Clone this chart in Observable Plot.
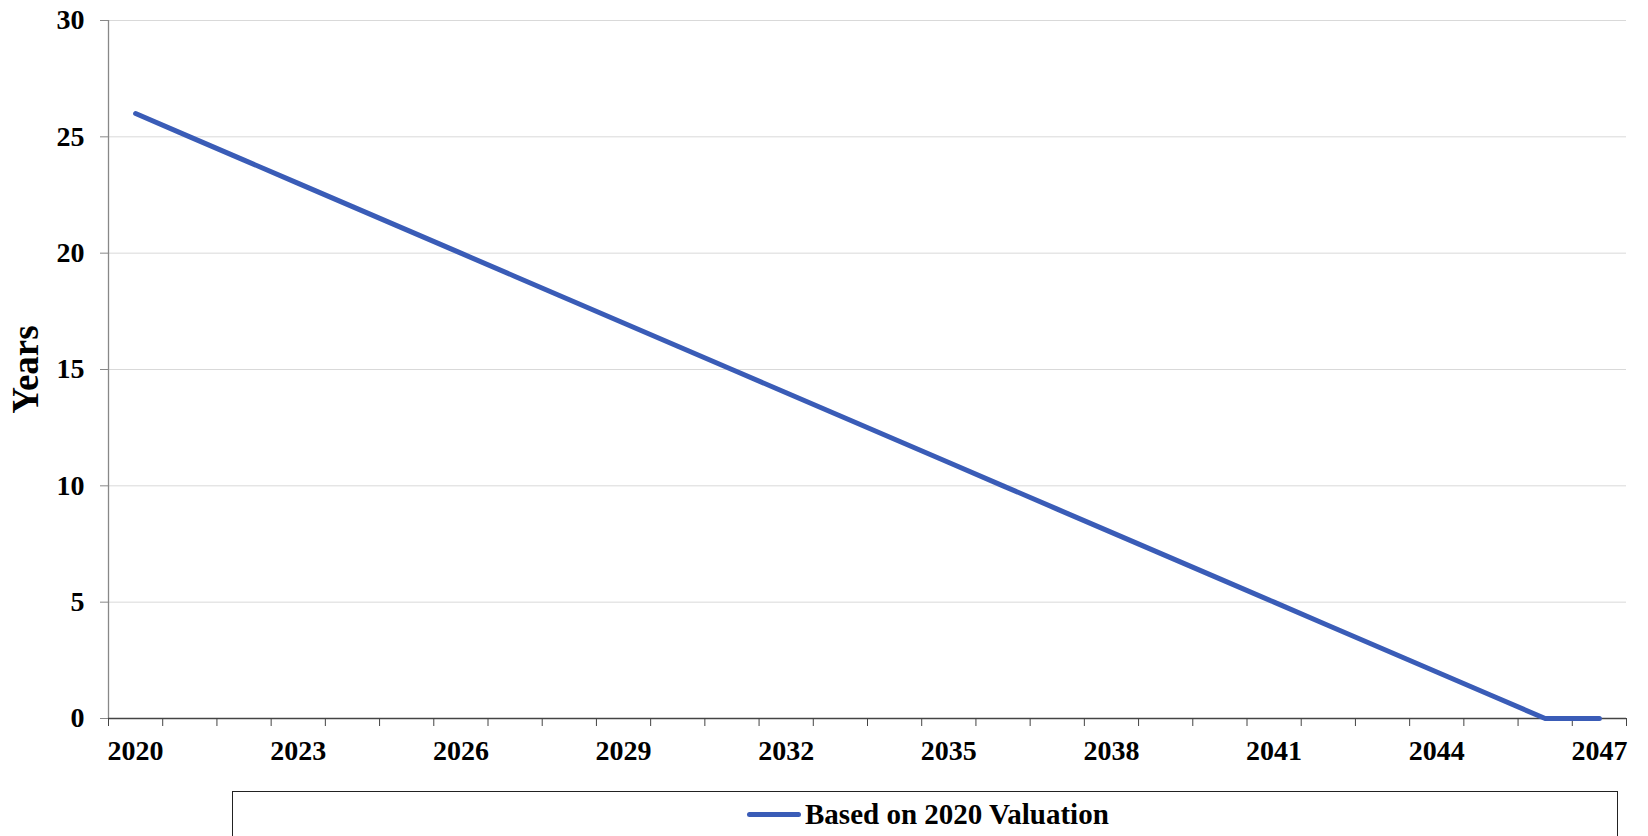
<!DOCTYPE html>
<html>
<head>
<meta charset="utf-8">
<script src="https://cdn.jsdelivr.net/npm/d3@7"></script>
<script src="https://cdn.jsdelivr.net/npm/@observablehq/plot@0.6"></script>
<style>
  html, body { margin: 0; padding: 0; background: #fff; overflow: hidden; }
  #wrap { position: relative; width: 1648px; height: 836px; }
  #legend {
    position: absolute; left: 232px; top: 791px; width: 1386px; height: 80px;
    border: 1.3px solid #222; box-sizing: border-box;
    font-family: "Liberation Serif", "Times New Roman", serif; font-weight: bold; font-size: 29px; color: #000;
  }
  #legend .item { position: absolute; left: 514px; top: 6px; display: flex; align-items: center; white-space: nowrap; }
  #legend .sw { width: 54px; height: 5px; border-radius: 3px; background: #3A5CB7; margin-right: 4px; }
</style>
</head>
<body>
<div id="wrap">
  <div id="chart"></div>
  <div id="legend"><div class="item"><span class="sw"></span><span>Based on 2020 Valuation</span></div></div>
</div>
<script>
const years = [2020, 2021, 2022, 2023, 2024, 2025, 2026, 2027, 2028, 2029, 2030, 2031, 2032, 2033,
               2034, 2035, 2036, 2037, 2038, 2039, 2040, 2041, 2042, 2043, 2044, 2045, 2046, 2047];
const yearsRemaining = [26, 25, 24, 23, 22, 21, 20, 19, 18, 17, 16, 15, 14, 13,
                        12, 11, 10, 9, 8, 7, 6, 5, 4, 3, 2, 1, 0, 0];
const yTicks = [0, 5, 10, 15, 20, 25, 30];
const xLabelYears = [2020, 2023, 2026, 2029, 2032, 2035, 2038, 2041, 2044, 2047];
const seriesName = "Based on 2020 Valuation";

const data = years.map((y, i) => ({year: y, value: yearsRemaining[i]}));
const bandEdges = years.map(y => y - 0.5).concat([years[years.length - 1] + 0.5]);

const font = "'Liberation Serif', 'Times New Roman', serif";
const chart = Plot.plot({
  width: 1648,
  height: 775,
  marginLeft: 108,
  marginRight: 22,
  marginTop: 20,
  marginBottom: 57,
  style: {fontFamily: font, fontWeight: "bold", fontSize: "28px", color: "#000", background: "#fff"},
  x: {domain: [years[0] - 0.5, years[years.length - 1] + 0.5]},
  y: {domain: [0, 30]},
  marks: [
    Plot.gridY(yTicks.filter(d => d > 0), {stroke: "#d9d9d9", strokeOpacity: 1, strokeWidth: 1}),
    Plot.ruleX([bandEdges[0]], {stroke: "#888", strokeWidth: 1.3}),
    Plot.axisY({ticks: yTicks, tickSize: 8, tickPadding: 16, tickFormat: d => d, label: null, stroke: "#888", fontSize: 28}),
    Plot.axisY({ticks: [], label: "Years", labelAnchor: "center", labelArrow: "none", labelOffset: 97, fontSize: 37, fontWeight: "bold"}),
    Plot.ruleY([0], {stroke: "#444", strokeWidth: 1.3}),
    Plot.axisX({ticks: bandEdges, tickSize: 8, tickFormat: () => "", label: null, stroke: "#444"}),
    Plot.axisX({ticks: xLabelYears, tickSize: 0, tickPadding: 22, tickFormat: d => String(d), label: null, fontSize: 28}),
    Plot.line(data, {x: "year", y: "value", stroke: "#3A5CB7", strokeWidth: 5, strokeLinecap: "round", strokeLinejoin: "round"})
  ]
});
document.getElementById("chart").appendChild(chart);
</script>
</body>
</html>
